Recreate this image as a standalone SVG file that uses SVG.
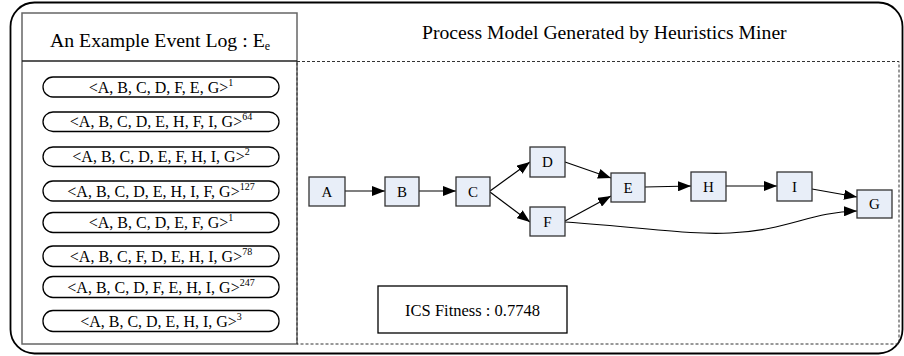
<svg xmlns="http://www.w3.org/2000/svg" width="904" height="356" viewBox="0 0 904 356">
<defs>
<style>
text{font-family:"Liberation Serif","Times New Roman",serif;fill:#000}
.pill{fill:#fff;stroke:#000;stroke-width:1.3}
.pt{font-size:16px;text-anchor:middle}
.sup{font-size:10px}
.node rect{fill:#E8EEF8;stroke:#333;stroke-width:1.3}
.node text{font-size:15px;text-anchor:middle}
.edge{fill:none;stroke:#000;stroke-width:1.2;marker-end:url(#ah)}
</style>
<marker id="ah" markerUnits="userSpaceOnUse" markerWidth="14" markerHeight="10" refX="13" refY="5" orient="auto">
<path d="M0,0 L13,5 L0,10 Z" fill="#000"/>
</marker>
</defs>
<rect x="10.5" y="2.5" width="892" height="351" rx="24" fill="#fff" stroke="#000" stroke-width="1.8"/>
<g id="eventlog">
<rect x="22" y="13" width="275" height="331" fill="#fff" stroke="#666" stroke-width="1.5"/>
<line x1="22" y1="61" x2="297" y2="61" stroke="#222" stroke-width="1.3"/>
<text x="160" y="47" font-size="19.8px" text-anchor="middle">An Example Event Log : E<tspan font-size="12px" dy="3">e</tspan></text>
</g>
<g id="model">
<rect x="297" y="61.5" width="602" height="282.5" fill="none" stroke="#333" stroke-width="1" stroke-dasharray="3,2"/>
<text x="422" y="39" font-size="19.7px">Process Model Generated by Heuristics Miner</text>
</g>
<g id="traces">
<g id="t1"><rect class="pill" x="43" y="77" width="236" height="20" rx="10"/><text class="pt" x="161" y="92.5">&lt;A, B, C, D, F, E, G&gt;<tspan class="sup" dy="-7">1</tspan></text></g>
<g id="t2"><rect class="pill" x="43" y="112" width="236" height="19.5" rx="10"/><text class="pt" x="161" y="127.3">&lt;A, B, C, D, E, H, F, I, G&gt;<tspan class="sup" dy="-7">64</tspan></text></g>
<g id="t3"><rect class="pill" x="43" y="147" width="236" height="19.5" rx="10"/><text class="pt" x="161" y="162.3">&lt;A, B, C, D, E, F, H, I, G&gt;<tspan class="sup" dy="-7">2</tspan></text></g>
<g id="t4"><rect class="pill" x="43" y="181" width="236" height="20" rx="10"/><text class="pt" x="161" y="196.5">&lt;A, B, C, D, E, H, I, F, G&gt;<tspan class="sup" dy="-7">127</tspan></text></g>
<g id="t5"><rect class="pill" x="43" y="212.5" width="236" height="20" rx="10"/><text class="pt" x="161" y="228">&lt;A, B, C, D, E, F, G&gt;<tspan class="sup" dy="-7">1</tspan></text></g>
<g id="t6"><rect class="pill" x="43" y="246" width="236" height="20.5" rx="10"/><text class="pt" x="161" y="261.8">&lt;A, B, C, F, D, E, H, I, G&gt;<tspan class="sup" dy="-7">78</tspan></text></g>
<g id="t7"><rect class="pill" x="43" y="276.5" width="236" height="21" rx="10"/><text class="pt" x="161" y="292.5">&lt;A, B, C, D, F, E, H, I, G&gt;<tspan class="sup" dy="-7">247</tspan></text></g>
<g id="t8"><rect class="pill" x="43" y="310.5" width="236" height="21" rx="10"/><text class="pt" x="161" y="326.5">&lt;A, B, C, D, E, H, I, G&gt;<tspan class="sup" dy="-7">3</tspan></text></g>
</g>
<g id="connectors">
<line class="edge" x1="345" y1="191" x2="385" y2="191"/>
<line class="edge" x1="419" y1="191" x2="456" y2="191"/>
<line class="edge" x1="490" y1="191" x2="530" y2="162"/>
<line class="edge" x1="490" y1="192" x2="530" y2="222"/>
<line class="edge" x1="565" y1="162" x2="611" y2="178"/>
<line class="edge" x1="565" y1="221" x2="611" y2="196"/>
<path class="edge" d="M565,222 C650,228 690,235 730,233 C790,230 810,212 857,211"/>
<line class="edge" x1="645" y1="187" x2="691" y2="186"/>
<line class="edge" x1="726" y1="186" x2="777" y2="186"/>
<line class="edge" x1="812" y1="189" x2="857" y2="197"/>
</g>
<g id="A" class="node"><rect x="309" y="177" width="36" height="29"/><text x="327" y="196.5">A</text></g>
<g id="B" class="node"><rect x="385" y="177" width="34" height="29"/><text x="402" y="196.5">B</text></g>
<g id="C" class="node"><rect x="456" y="177" width="34" height="29"/><text x="473" y="196.5">C</text></g>
<g id="D" class="node"><rect x="530" y="147" width="35" height="30"/><text x="547.5" y="167">D</text></g>
<g id="F" class="node"><rect x="530" y="207" width="35" height="29"/><text x="547.5" y="226.5">F</text></g>
<g id="E" class="node"><rect x="611" y="173" width="34" height="29"/><text x="628" y="192.5">E</text></g>
<g id="H" class="node"><rect x="691" y="172" width="35" height="29"/><text x="708.5" y="191.5">H</text></g>
<g id="I" class="node"><rect x="777" y="172" width="35" height="29"/><text x="794.5" y="191.5">I</text></g>
<g id="G" class="node"><rect x="857" y="190" width="35" height="28"/><text x="874.5" y="209">G</text></g>
<g id="fitness"><rect x="378" y="286" width="189" height="47" fill="#fff" stroke="#000" stroke-width="1.3"/><text x="472.5" y="315.5" font-size="16.5px" text-anchor="middle">ICS Fitness : 0.7748</text></g>
</svg>
